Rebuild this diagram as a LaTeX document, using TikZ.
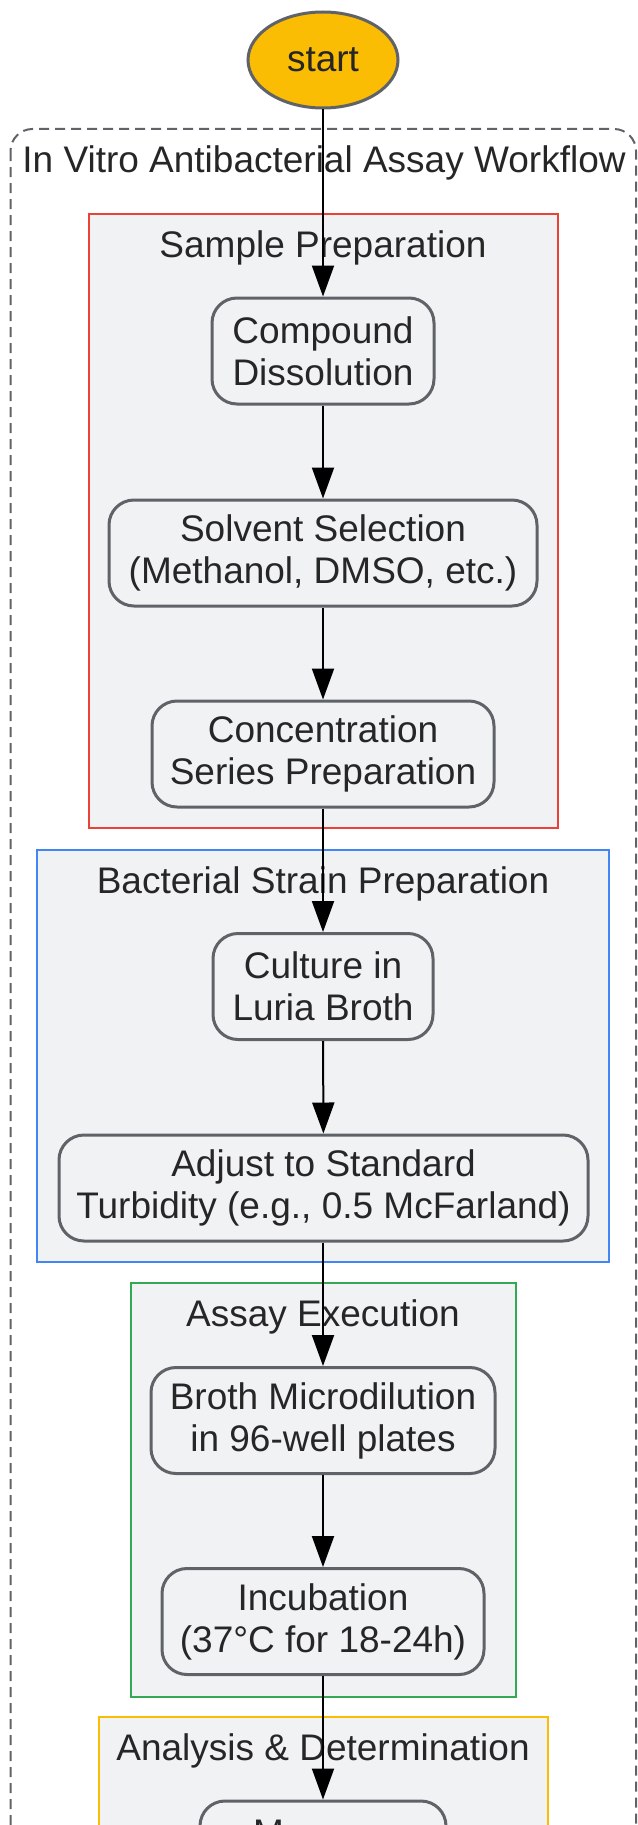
\documentclass[tikz,border=0pt]{standalone}
\usepackage{fontspec}
\setmainfont{Liberation Sans}
\usetikzlibrary{arrows.meta,shapes.geometric,positioning}

\definecolor{txtgray}{HTML}{262626}
\definecolor{nodeline}{HTML}{5F6368}
\definecolor{groupfill}{HTML}{F1F2F4}
\definecolor{redline}{HTML}{EA4335}
\definecolor{blueline}{HTML}{4285F4}
\definecolor{greenline}{HTML}{34A853}
\definecolor{yellowline}{HTML}{FBBC04}

\tikzset{
        task/.style = {draw=nodeline, line width=3pt, fill=groupfill, rounded corners=25pt,
            align=center, inner sep=0pt, minimum height=106pt},
        begin/.style = {ellipse, draw=nodeline, line width=3pt, fill=yellowline,
            minimum width=150pt, minimum height=96pt, inner sep=0pt},
        group/.style = {fill=groupfill, line width=2pt},
        outer/.style = {draw=nodeline, line width=2pt, dash pattern=on 10pt off 6pt, rounded corners=22pt},
        flow/.style = {-{Triangle[length=31pt, width=22pt]}, line width=2pt, black}
    }

\begin{document}
\begin{tikzpicture}[x=1pt, y=-1pt, font=\fontsize{37}{42}\selectfont, text=txtgray]
            \clip (0,0) rectangle (637,1825);

            \draw[outer] (10.5,129) rectangle (636,1900);
            \node (workflow) at (324,163) {In Vitro Antibacterial Assay Workflow};

            \foreach \nm/\col/\xa/\ya/\xb/\yb/\ttl in {sample/redline/88.5/214/558/828/Sample Preparation,
                    strain/blueline/37/850/608.5/1261.5/Bacterial Strain Preparation,
                    assay/greenline/131/1283/516/1696.5/Assay Execution,
                    analysis/yellowline/99/1717/547.5/1900/Analysis \& Determination} {
                \draw[group, draw=\col] (\xa,\ya) rectangle (\xb,\yb);
                \node (\nm) at (323,\ya+34) {\ttl};
            };

            \node[begin] (start) at (323,60) {start};

            \node[task, minimum width=222pt] (dissolve) at (323,351) {Compound\\Dissolution};
            \node[task, minimum width=428pt] (solvent) at (323,553) {Solvent Selection\\(Methanol, DMSO, etc.)};
            \node[task, minimum width=342pt] (series) at (323,754) {Concentration\\Series Preparation};
            \node[task, minimum width=220pt] (culture) at (323,986.5) {Culture in\\Luria Broth};
            \node[task, minimum width=529pt] (turbidity) at (323.5,1188) {Adjust to Standard\\Turbidity (e.g., 0.5 McFarland)};
            \node[task, minimum width=344pt] (microdil) at (323,1420.5) {Broth Microdilution\\in 96-well plates};
            \node[task, minimum width=322pt] (incubate) at (323,1621.5) {Incubation\\(37°C for 18-24h)};
            \node[task, minimum width=246pt] (measure) at (323,1854) {\makebox[140pt][l]{M}\\~};

            \draw[flow] (start) -- (dissolve);
            \draw[flow] (dissolve) -- (solvent);
            \draw[flow] (solvent) -- (series);
            \draw[flow] (series) -- (culture);
            \draw[flow] (culture) -- (turbidity);
            \draw[flow] (turbidity.south -| culture) -- (microdil);
            \draw[flow] (microdil) -- (incubate);
            \draw[flow] (incubate) -- (measure);

        \end{tikzpicture}
\end{document}
